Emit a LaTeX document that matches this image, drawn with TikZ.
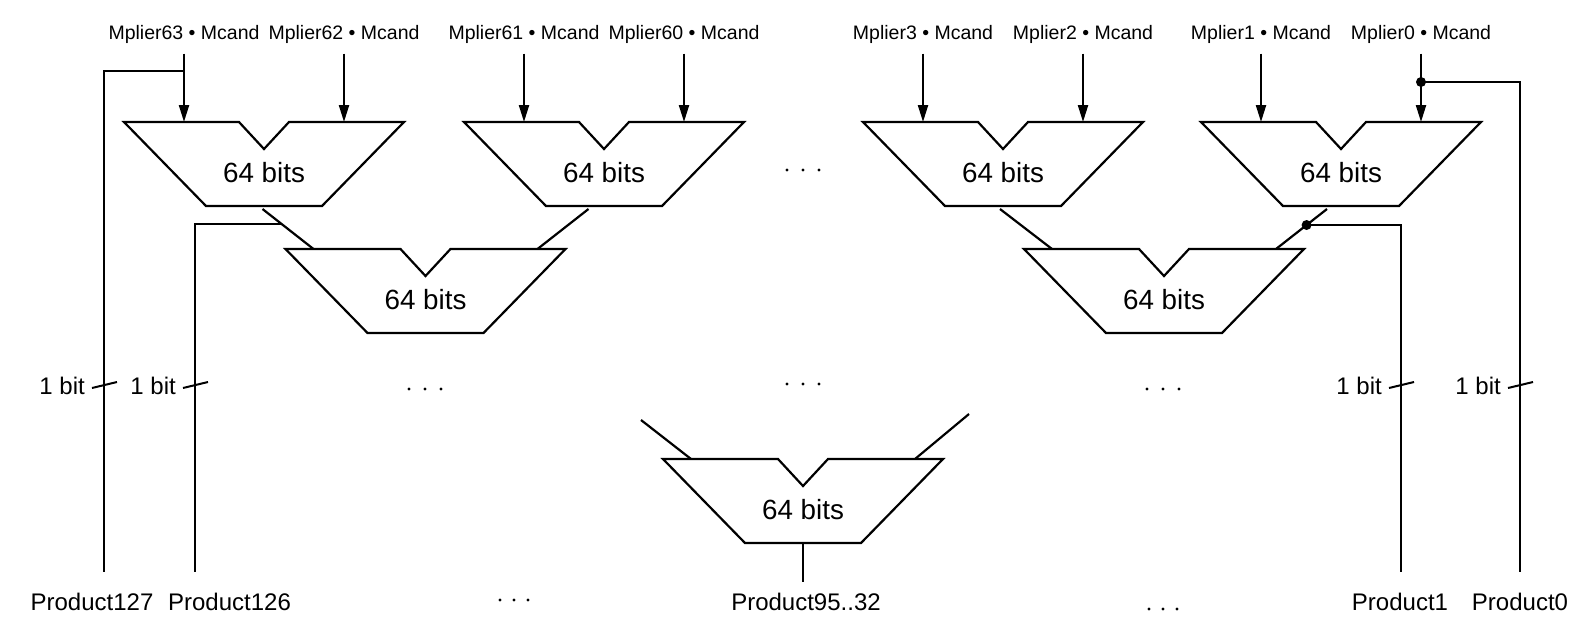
\documentclass[tikz,border=0pt]{standalone}
\usepackage{fontspec}
\setmainfont{Liberation Sans}
\usetikzlibrary{arrows.meta,calc}
\begin{document}
\begin{tikzpicture}[x=1pt,y=1pt,
  outline/.style={line width=2.2pt, line join=miter},
  feed/.style={line width=2.2pt},
  wire/.style={line width=1.3pt},
  bittick/.style={line width=2pt},
  arr/.style={line width=2.2pt, -{Triangle[length=17pt,width=10pt]}},
  tap/.style={circle, fill, inner sep=0pt, minimum size=10pt},
  lbl/.style={font=\fontsize{19.5}{20}\selectfont, anchor=base, inner sep=0pt},
  sumtext/.style={font=\fontsize{27.8}{30}\selectfont, anchor=base, inner sep=0pt},
  prodtext/.style={font=\fontsize{24}{26}\selectfont, anchor=base, inner sep=0pt},
  pics/adder/.style={code={
    \draw[outline] (-140,0) -- (-25,0) -- (0,-27) -- (25,0) -- (140,0)
      -- (58,-84) -- (-58,-84) -- cycle;
    \node[sumtext] (-txt) at (0,-60.5) {64 bits};
    \coordinate (-l1) at (-80,0);
    \coordinate (-r1) at (80,0);
    \coordinate (-l2) at (-112,0);
    \coordinate (-r2) at (112,0);
    \coordinate (-out) at (0,-84);
  }}
]
\useasboundingbox (0,0) rectangle (1582,-622);

% first row of adders
\pic (A1) at (264,-122) {adder};
\pic (A2) at (604,-122) {adder};
\pic (A3) at (1003,-122) {adder};
\pic (A4) at (1341,-122) {adder};
% second row
\pic (B1) at (425.5,-249) {adder};
\pic (B2) at (1164,-249) {adder};
% last adder
\pic (C) at (803,-459) {adder};

% partial product inputs
\node[lbl] (m63) at ($(A1-l1)+(0,82.5)$) {Mplier63 • Mcand};
\node[lbl] (m62) at ($(A1-r1)+(0,82.5)$) {Mplier62 • Mcand};
\node[lbl] (m61) at ($(A2-l1)+(0,82.5)$) {Mplier61 • Mcand};
\node[lbl] (m60) at ($(A2-r1)+(0,82.5)$) {Mplier60 • Mcand};
\node[lbl] (m3) at ($(A3-l1)+(0,82.5)$) {Mplier3 • Mcand};
\node[lbl] (m2) at ($(A3-r1)+(0,82.5)$) {Mplier2 • Mcand};
\node[lbl] (m1) at ($(A4-l1)+(0,82.5)$) {Mplier1 • Mcand};
\node[lbl] (m0) at ($(A4-r1)+(0,82.5)$) {Mplier0 • Mcand};

\draw[arr] ([yshift=-14pt]m63.base) -- (A1-l1);
\draw[arr] ([yshift=-14pt]m62.base) -- (A1-r1);
\draw[arr] ([yshift=-14pt]m61.base) -- (A2-l1);
\draw[arr] ([yshift=-14pt]m60.base) -- (A2-r1);
\draw[arr] ([yshift=-14pt]m3.base) -- (A3-l1);
\draw[arr] ([yshift=-14pt]m2.base) -- (A3-r1);
\draw[arr] ([yshift=-14pt]m1.base) -- (A4-l1);
\draw[arr] ([yshift=-14pt]m0.base) -- (A4-r1);

% sums feeding the next row
\coordinate (f1) at ($(B1-l2)+(-51,40)$);
\coordinate (f2) at ($(B1-r2)+(51,40)$);
\coordinate (f3) at ($(B2-l2)+(-52,40)$);
\coordinate (f4) at ($(B2-r2)+(51,40)$);
\coordinate (f5) at ($(C-l2)+(-50,39)$);
\coordinate (f6) at ($(C-r2)+(54,45)$);
\draw[feed] (f1) -- (B1-l2);
\draw[feed] (f2) -- (B1-r2);
\draw[feed] (f3) -- (B2-l2);
\draw[feed] (f4) -- (B2-r2);
\draw[feed] (f5) -- (C-l2);
\draw[feed] (f6) -- (C-r2);

% single product bits
\coordinate (t127) at ($(A1-l1)+(0,51)$);
\coordinate (t126) at ($(f1)!0.375!(B1-l2)$);
\coordinate (t1) at ($(f4)!0.4!(B2-r2)$);
\coordinate (t0) at ($(A4-r1)+(0,40)$);
\coordinate (e127) at (104,-572);
\coordinate (e126) at (195,-572);
\coordinate (e1) at (1401,-572);
\coordinate (e0) at (1520,-572);
\node[tap] (d1) at (t1) {};
\node[tap] (d0) at (t0) {};
\draw[wire] (t127) -| (e127);
\draw[wire] (t126) -| (e126);
\draw[wire] (d1.center) -| (e1);
\draw[wire] (d0.center) -| (e0);

\foreach \n in {127,126,1,0} {
  \coordinate (k\n) at (e\n |- 0,-385);
  \draw[bittick] ($(k\n)+(-12,-3)$) -- ($(k\n)+(13,3)$);
  \node[prodtext, anchor=base east] (bit\n) at ($(k\n)+(-19,-9)$) {1 bit};
}

% middle product bits
\coordinate (eC) at (803,-582);
\draw[wire] (C-out) -- (eC);

% product labels
\node[prodtext] (p127) at (92,-610) {Product127};
\node[prodtext] (p126) at (229.5,-610) {Product126};
\node[prodtext] (p95) at (806,-610) {Product95..32};
\node[prodtext] (p1) at (1400,-610) {Product1};
\node[prodtext] (p0) at (1520,-610) {Product0};

% ellipses
\foreach \x/\y in {787/170,803/170,819/170,
                   409/389,425/389,441/389,
                   787/384,803/384,819/384,
                   1147/389,1163/389,1179/389,
                   500/600,514/600,528/600,
                   1149/609,1163/609,1177/609}
  \fill (\x,-\y) circle (1.6);
\end{tikzpicture}
\end{document}
